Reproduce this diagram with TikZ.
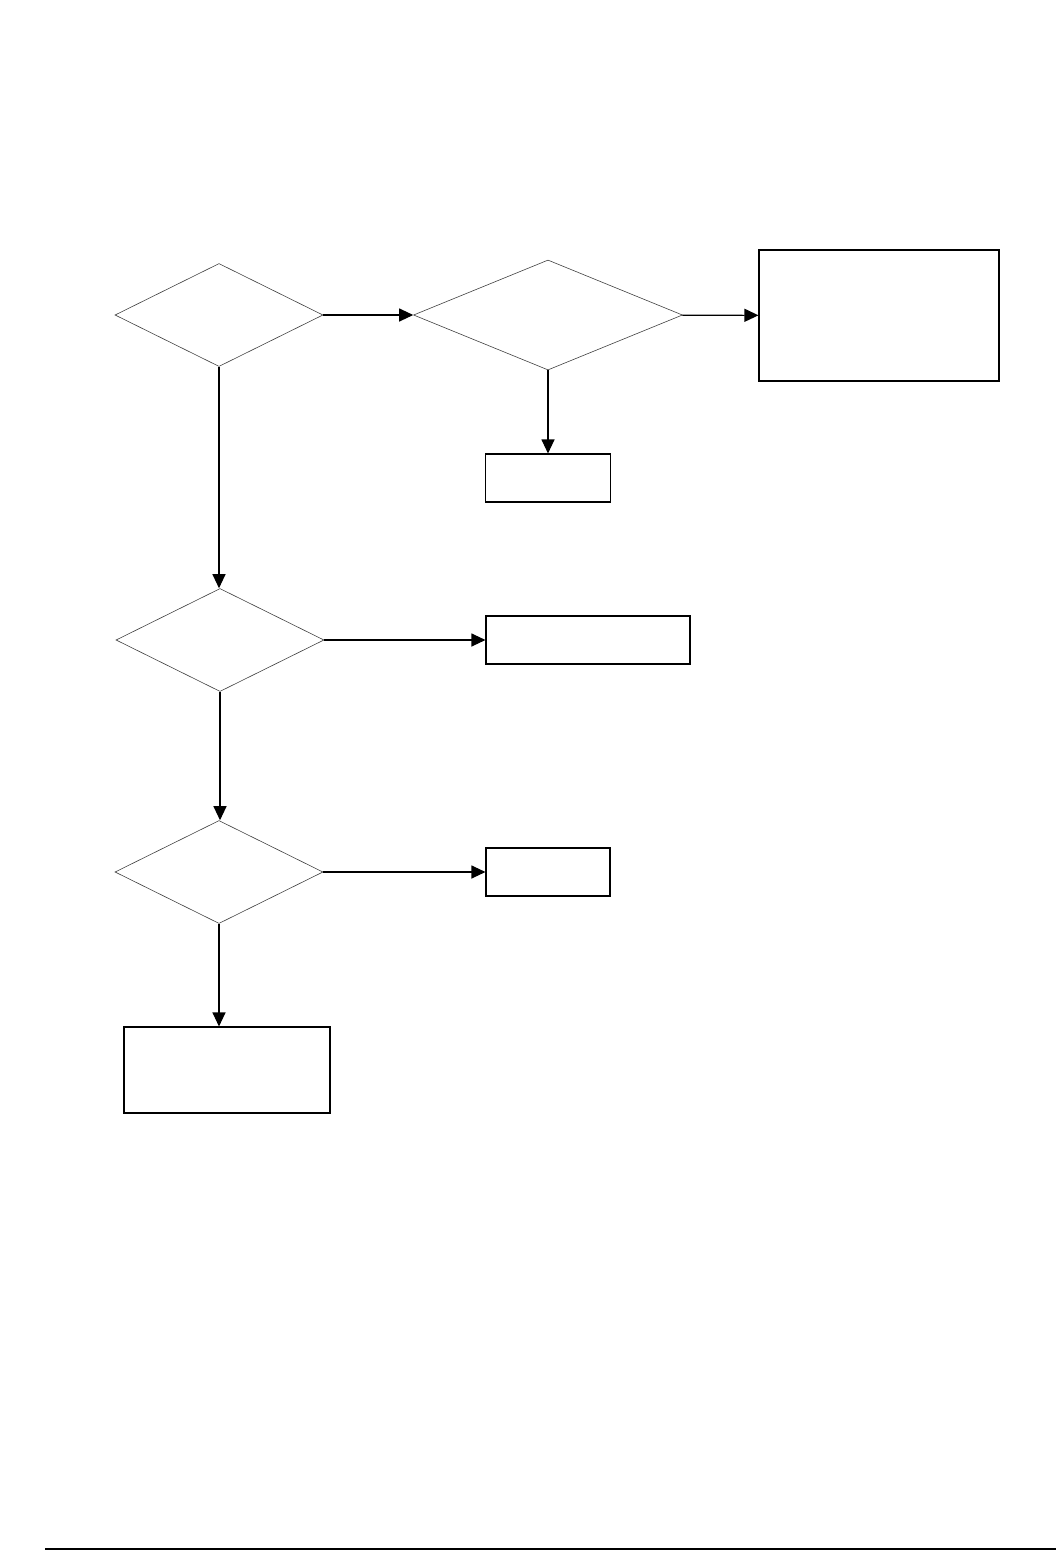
\documentclass[tikz,border=0pt]{standalone}
\usepackage{tikz}
\usetikzlibrary{arrows.meta, shapes.geometric}

\begin{document}
\begin{tikzpicture}[
    x=1pt, y=-1pt,
    decision/.style={diamond, draw=black!75, line width=0.6pt, inner sep=0pt,
        minimum width=208pt, minimum height=103pt},
    block/.style={rectangle, draw, line width=1.1pt, inner sep=0pt},
    arrow/.style={-{Triangle[length=14pt, width=13pt]}, line width=1.1pt}
]
\useasboundingbox (0,0) rectangle (1056,1550);

% === DECISIONS ===
\node[decision] (checkA) at (219,315) {};
\node[decision, minimum width=269pt, minimum height=110pt] (checkB) at (548,315) {};
\node[decision] (checkC) at (220,640) {};
\node[decision] (checkD) at (219,872) {};

% === RESULT BOXES ===
\node[block, minimum width=240pt, minimum height=131pt] (resultA) at (879,315.5) {};
\node[block, minimum width=125pt, minimum height=48pt] (resultB) at (548,478) {};
\node[block, minimum width=204pt, minimum height=48pt] (resultC) at (588,640) {};
\node[block, minimum width=124pt, minimum height=48pt] (resultD) at (548,872) {};
\node[block, minimum width=206pt, minimum height=86pt] (resultE) at (227,1070) {};

% === CONNECTORS ===
\draw[arrow] (checkA) -- (checkB);
\draw[arrow] (checkB) -- (resultA);
\draw[arrow] (checkB) -- (resultB);
\draw[arrow] (checkA.south) -- (checkA.south |- checkC.north);
\draw[arrow] (checkC) -- (resultC);
\draw[arrow] (checkC.south) -- (checkC.south |- checkD.north);
\draw[arrow] (checkD) -- (resultD);
\draw[arrow] (checkD.south) -- (checkD.south |- resultE.north);

% === FOOTER RULE ===
\coordinate (ruleL) at (45,1549);
\coordinate (ruleR) at (1056,1549);
\draw[line width=1.1pt] (ruleL) -- (ruleR);

\end{tikzpicture}
\end{document}
